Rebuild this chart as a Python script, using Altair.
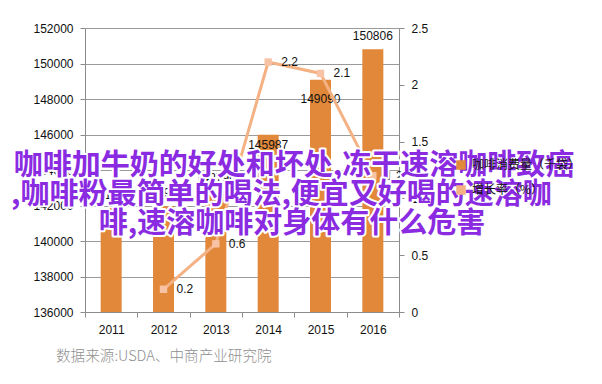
import altair as alt
import pandas as pd

# ---------------- data ----------------
years = ["2011", "2012", "2013", "2014", "2015", "2016"]
consumption = [141860, 141956, 142790, 145987, 149090, 150806]
growth_years = ["2012", "2013", "2014", "2015", "2016"]
growth = [0.2, 0.6, 2.2, 2.1, 1.2]
series_names = ["咖啡消费量（千袋）", "增长率（%）"]
series_colors = ["#E2883A", "#F4B183"]
left_ticks = [136000, 138000, 140000, 142000, 144000, 146000, 148000, 150000, 152000]
right_ticks = [0, 0.5, 1, 1.5, 2, 2.5]
overlay_lines = [
    "咖啡加牛奶的好处和坏处,冻干速溶咖啡致癌",
    ",咖啡粉最简单的喝法,便宜又好喝的速溶咖",
    "啡,速溶咖啡对身体有什么危害",
]
source_note = "数据来源:USDA、中商产业研究院"

bars_df = pd.DataFrame({"year": years, "value": consumption, "series": series_names[0]})
line_df = pd.DataFrame({"year": growth_years, "rate": growth, "series": series_names[1]})

W, H = 314, 284
FONT = "Liberation Sans"
CJK = "Noto Sans CJK SC"
AX = "#8c8c8c"

x_axis = alt.Axis(
    title=None, labelAngle=0, tickBand="extent", tickSize=5, tickColor=AX,
    domainColor=AX, labelFont=FONT, labelFontSize=12, labelColor="#111",
    labelPadding=7, grid=False,
)
x_scale = alt.Scale(domain=years, paddingInner=0, paddingOuter=0)
x_enc = alt.X("year:N", sort=years, scale=x_scale, axis=x_axis)

color_enc = alt.Color(
    "series:N",
    scale=alt.Scale(domain=series_names, range=series_colors),
    legend=alt.Legend(
        title=None, orient="none", legendX=370, legendY=131, symbolType="square",
        symbolSize=64, labelFont=CJK, labelFontSize=12, labelColor="#111",
        rowPadding=11, labelOffset=5, padding=0,
    ),
)

y_left_scale = alt.Scale(domain=[left_ticks[0], left_ticks[-1]], zero=False, nice=False)
left_axis = alt.Axis(
    title=None, orient="left", values=left_ticks, format="d", grid=True,
    gridColor="#9a9a9a", domainColor=AX, tickColor=AX, tickSize=5,
    labelPadding=7, labelFont=FONT, labelFontSize=12, labelColor="#111",
)
y_left = alt.Y("value:Q", scale=y_left_scale, axis=left_axis)

bars = alt.Chart(bars_df).mark_bar(size=21).encode(
    x=x_enc, y=y_left, y2=alt.datum(left_ticks[0]), color=color_enc
)

def bar_text(sel, dy):
    return (
        alt.Chart(bars_df)
        .transform_filter(sel)
        .mark_text(font=FONT, fontSize=12, color="#111", baseline="middle", dy=dy)
        .encode(
            x=x_enc,
            y=y_left,
            text=alt.Text("value:Q", format="d"),
        )
    )

above = alt.FieldOneOfPredicate(field="year", oneOf=["2011", "2012", "2013", "2016"])
lab_above = bar_text(above, -13)
lab_2014 = bar_text(alt.FieldEqualPredicate(field="year", equal="2014"), 10)
lab_2015 = bar_text(alt.FieldEqualPredicate(field="year", equal="2015"), 19)

left = alt.layer(bars, lab_above, lab_2014, lab_2015)

y_right_scale = alt.Scale(domain=[right_ticks[0], right_ticks[-1]], nice=False)
right_axis = alt.Axis(
    title=None, orient="right", values=right_ticks, format="~g", grid=False,
    domainColor=AX, tickColor=AX, tickSize=5, labelPadding=7,
    labelFont=FONT, labelFontSize=12, labelColor="#111",
)
y_right = alt.Y("rate:Q", scale=y_right_scale, axis=right_axis)

line = alt.Chart(line_df).mark_line(
    strokeWidth=3,
    point=alt.OverlayMarkDef(shape="square", size=55, filled=True, fill="#F8C3A4", opacity=1),
).encode(x=x_enc, y=y_right, color=color_enc)

line_labels = alt.Chart(line_df).mark_text(
    font=FONT, fontSize=12, color="#111", align="left", baseline="middle", dx=13
).encode(
    x=x_enc,
    y=y_right,
    text=alt.Text("rate:Q", format=".1f"),
)

right = alt.layer(line, line_labels)

# overlay headline text (white halo + purple fill)
def overlay(text, x, y, align):
    df = pd.DataFrame({"t": [text]})
    halo = alt.Chart(df).mark_text(
        font=CJK, fontSize=29, fontWeight="bold", align=align, baseline="middle",
        fill="white", stroke="white", strokeWidth=4, strokeJoin="round",
    ).encode(text="t:N", x=alt.value(x), y=alt.value(y))
    fill = alt.Chart(df).mark_text(
        font=CJK, fontSize=29, fontWeight="bold", align=align, baseline="middle",
        fill="#8A2BE2",
    ).encode(text="t:N", x=alt.value(x), y=alt.value(y))
    return [halo, fill]

ov = []
ov += overlay(overlay_lines[0], 209, 138, "center")
ov += overlay(overlay_lines[1], -74, 167, "left")
ov += overlay(overlay_lines[2], 207, 196, "center")

note = alt.Chart(pd.DataFrame({"t": [source_note]})).mark_text(
    font=CJK, fontSize=14.6, fontWeight=300, color="#8f8f8f", align="left", baseline="middle"
).encode(text="t:N", x=alt.value(-29), y=alt.value(329))

chart = (
    alt.layer(left, right, note, *ov)
    .resolve_scale(y="independent")
    .properties(
        width=W, height=H,
        padding={"left": 77, "top": 20, "right": 195, "bottom": 58},
        autosize=alt.AutoSizeParams(type="none"),
        background="white",
    )
    .configure_view(stroke=None)
)

chart.save("out.html", embed_options={"renderer": "svg", "actions": False})
